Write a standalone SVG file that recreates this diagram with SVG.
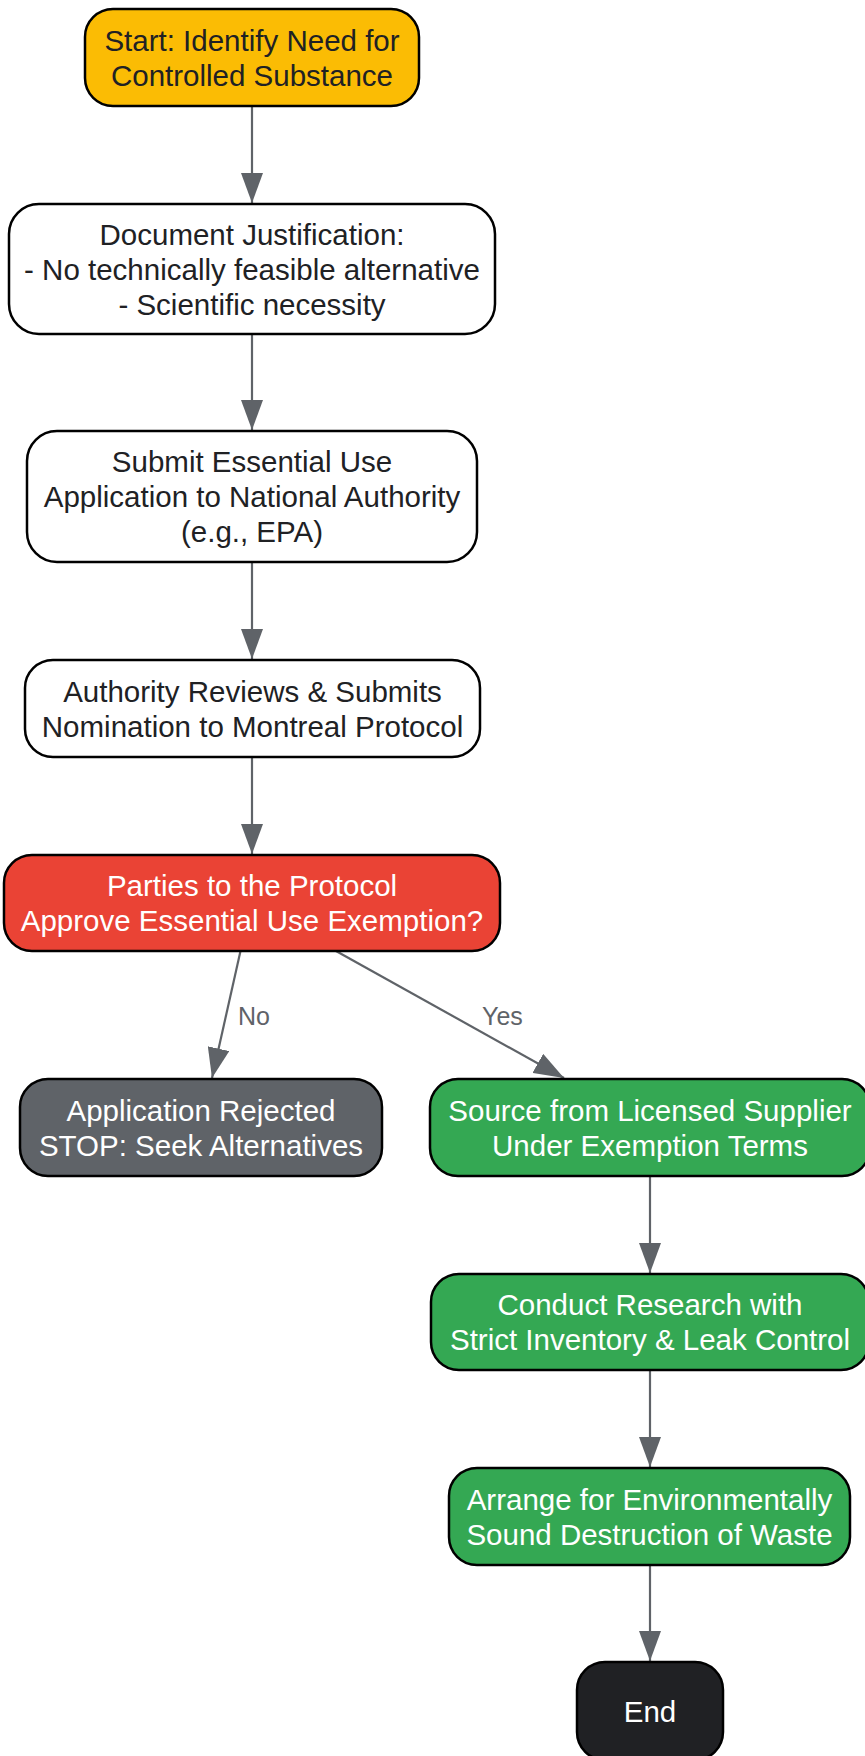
<svg xmlns="http://www.w3.org/2000/svg" width="865" height="1756" viewBox="0 0 865 1756">
<style>
  .node rect { stroke: #000; stroke-width: 2.5; }
  .node text { font-family: "Liberation Sans", Arial, sans-serif; font-size: 29.5px; text-anchor: middle; }
  .dark text { fill: #202124; }
  .light text { fill: #ffffff; }
  .edge { stroke: #5f6368; stroke-width: 2.2; fill: none; }
  .elabel { font-family: "Liberation Sans", Arial, sans-serif; font-size: 25px; fill: #5f6368; }
</style>
<defs>
  <marker id="arr" viewBox="0 0 30 22" refX="30" refY="11" markerWidth="30" markerHeight="22" markerUnits="userSpaceOnUse" orient="auto">
    <path d="M0,0 L30,11 L0,22 z" fill="#5f6368"/>
  </marker>
</defs>
<rect width="865" height="1756" fill="#ffffff"/>
<g id="connectors">
  <line class="edge" x1="252" y1="106" x2="252" y2="203" marker-end="url(#arr)"/>
  <line class="edge" x1="252" y1="334" x2="252" y2="430" marker-end="url(#arr)"/>
  <line class="edge" x1="252" y1="562" x2="252" y2="659" marker-end="url(#arr)"/>
  <line class="edge" x1="252" y1="757" x2="252" y2="854" marker-end="url(#arr)"/>
  <line class="edge" x1="240.5" y1="951" x2="212" y2="1078" marker-end="url(#arr)"/>
  <line class="edge" x1="336" y1="951" x2="564" y2="1078" marker-end="url(#arr)"/>
  <line class="edge" x1="650" y1="1176" x2="650" y2="1273" marker-end="url(#arr)"/>
  <line class="edge" x1="650" y1="1370" x2="650" y2="1467" marker-end="url(#arr)"/>
  <line class="edge" x1="650" y1="1565" x2="650" y2="1661" marker-end="url(#arr)"/>
  <text class="elabel" x="238" y="1025">No</text>
  <text class="elabel" x="482" y="1025">Yes</text>
</g>
<g id="start" class="node dark">
  <rect x="85" y="9" width="334" height="97" rx="28" fill="#fbbc04"/>
  <text x="252" y="50.5">Start: Identify Need for</text>
  <text x="252" y="85.5">Controlled Substance</text>
</g>
<g id="justify" class="node dark">
  <rect x="9" y="204" width="486" height="130" rx="30" fill="#ffffff"/>
  <text x="252" y="244.5">Document Justification:</text>
  <text x="252" y="279.5">- No technically feasible alternative</text>
  <text x="252" y="314.5">- Scientific necessity</text>
</g>
<g id="submit" class="node dark">
  <rect x="27" y="431" width="450" height="131" rx="30" fill="#ffffff"/>
  <text x="252" y="472">Submit Essential Use</text>
  <text x="252" y="507">Application to National Authority</text>
  <text x="252" y="542">(e.g., EPA)</text>
</g>
<g id="review" class="node dark">
  <rect x="25" y="660" width="455" height="97" rx="28" fill="#ffffff"/>
  <text x="252.5" y="701.5">Authority Reviews &amp; Submits</text>
  <text x="252.5" y="736.5">Nomination to Montreal Protocol</text>
</g>
<g id="approve" class="node light">
  <rect x="4" y="855" width="496" height="96" rx="28" fill="#ea4335"/>
  <text x="252" y="896">Parties to the Protocol</text>
  <text x="252" y="931">Approve Essential Use Exemption?</text>
</g>
<g id="rejected" class="node light">
  <rect x="20" y="1079" width="362" height="97" rx="28" fill="#5f6368"/>
  <text x="201" y="1120.5">Application Rejected</text>
  <text x="201" y="1155.5">STOP: Seek Alternatives</text>
</g>
<g id="source" class="node light">
  <rect x="430" y="1079" width="440" height="97" rx="28" fill="#34a853"/>
  <text x="650" y="1120.5">Source from Licensed Supplier</text>
  <text x="650" y="1155.5">Under Exemption Terms</text>
</g>
<g id="research" class="node light">
  <rect x="431" y="1274" width="438" height="96" rx="28" fill="#34a853"/>
  <text x="650" y="1315">Conduct Research with</text>
  <text x="650" y="1350">Strict Inventory &amp; Leak Control</text>
</g>
<g id="destroy" class="node light">
  <rect x="449" y="1468" width="401" height="97" rx="28" fill="#34a853"/>
  <text x="649.5" y="1509.5">Arrange for Environmentally</text>
  <text x="649.5" y="1544.5">Sound Destruction of Waste</text>
</g>
<g id="end" class="node light">
  <rect x="577" y="1662" width="146" height="98" rx="28" fill="#202124"/>
  <text x="650" y="1721.5">End</text>
</g>
</svg>
